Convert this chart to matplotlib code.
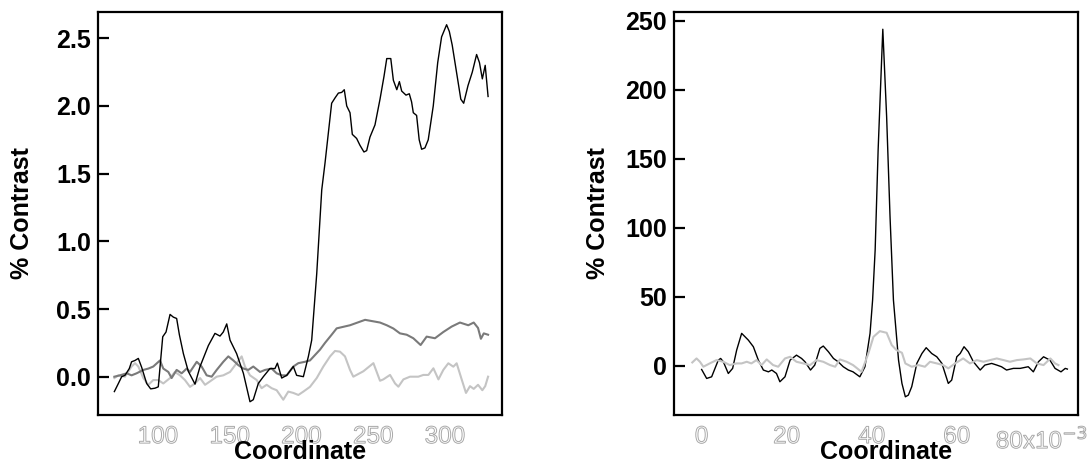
import matplotlib
matplotlib.use('Agg')
import matplotlib.pyplot as plt
import matplotlib.patheffects as pe

plt.rcParams['font.family'] = ['Liberation Sans', 'DejaVu Sans']

# --- left panel: three traces ---
left_black_x = [69.6, 72.4, 74.7, 77.0, 80.0, 81.6, 84.0, 86.3, 88.6, 92.1, 94.9, 97.9, 100.2,
                103.3, 105.6, 108.4, 110.7, 113.0, 114.9, 117.7, 121.1, 125.8, 129.3, 135.1,
                139.7, 143.2, 145.5, 147.9, 150.2, 154.8, 159.5, 164.1, 166.4, 169.9, 173.4,
                178.0, 181.5, 183.2, 186.2, 189.7, 194.3, 196.6, 201.3, 204.8, 207.1, 210.6,
                214.1, 216.4, 218.7, 221.0, 223.4, 225.7, 228.0, 229.8, 231.5, 233.8, 235.4,
                238.4, 240.7, 243.5, 245.4, 247.7, 251.2, 254.7, 257.5, 259.4, 262.2, 264.0,
                266.4, 268.2, 269.8, 272.8, 275.1, 276.7, 277.9, 280.2, 282.0, 283.7, 286.0,
                288.3, 291.8, 294.9, 297.6, 301.1, 303.0, 305.0, 308.0, 311.0, 313.0, 316.0,
                319.0, 322.0, 324.0, 326.0, 328.0, 330.0]
left_black_y = [-0.11, -0.05, 0.0, 0.01, 0.06, 0.11, 0.12, 0.135, 0.07, -0.05, -0.09, -0.085, -0.075,
                0.295, 0.33, 0.46, 0.44, 0.43, 0.31, 0.17, 0.04, -0.055, 0.075, 0.23,
                0.32, 0.30, 0.33, 0.39, 0.27, 0.17, 0.025, -0.185, -0.17, -0.05, 0.0,
                0.06, 0.06, 0.10, -0.01, 0.01, 0.075, 0.01, 0.0, 0.15, 0.27, 0.76,
                1.38, 1.58, 1.80, 2.02, 2.06, 2.095, 2.10, 2.12, 2.0, 1.95, 1.79,
                1.76, 1.71, 1.66, 1.67, 1.77, 1.86, 2.05, 2.22, 2.35, 2.35, 2.19,
                2.12, 2.18, 2.11, 2.08, 2.09, 2.03, 1.95, 1.93, 1.75, 1.68, 1.69,
                1.75, 2.0, 2.32, 2.51, 2.60, 2.55, 2.45, 2.25, 2.05, 2.02, 2.15,
                2.25, 2.38, 2.32, 2.20, 2.30, 2.07]

left_dark_x = [69.6, 73.5, 78.2, 81.6, 85.1, 89.8, 93.3, 96.7, 101.4, 103.7, 107.2, 109.5, 113.0,
               116.5, 120.0, 122.3, 127.0, 130.4, 133.9, 137.4, 140.9, 145.5, 149.0, 152.5,
               156.0, 159.5, 162.9, 166.4, 171.1, 174.6, 179.2, 182.7, 186.2, 189.7, 194.3,
               197.8, 202.4, 205.9, 209.4, 212.9, 216.4, 221.0, 224.5, 233.8, 244.3, 254.7,
               259.4, 264.0, 268.6, 273.3, 277.9, 283.0, 287.2, 293.0, 298.8, 304.6, 310.4,
               316.2, 320.0, 323.0, 325.0, 327.0, 330.0]
left_dark_y = [0.0, 0.01, 0.025, 0.01, 0.025, 0.05, 0.06, 0.075, 0.12, 0.06, 0.035, -0.01, 0.05,
               0.025, 0.06, 0.035, 0.11, 0.075, 0.01, 0.0, 0.05, 0.11, 0.15, 0.12,
               0.085, 0.06, 0.05, 0.075, 0.035, 0.05, 0.06, 0.025, 0.01, 0.01, 0.075,
               0.10, 0.11, 0.12, 0.16, 0.20, 0.25, 0.31, 0.357, 0.38, 0.42, 0.40,
               0.38, 0.356, 0.32, 0.31, 0.284, 0.234, 0.296, 0.284, 0.33, 0.37, 0.40,
               0.38, 0.40, 0.36, 0.28, 0.32, 0.31]

left_light_x = [69.6, 72.4, 77.0, 81.6, 84.0, 86.3, 89.8, 93.3, 96.7, 100.2, 103.7, 108.4, 111.8,
                115.3, 118.8, 122.3, 125.8, 129.3, 132.8, 136.2, 140.9, 145.5, 150.2, 154.8,
                158.3, 160.6, 164.1, 168.8, 172.2, 175.7, 179.2, 182.7, 187.3, 190.8, 194.3,
                197.8, 201.3, 205.9, 210.6, 215.2, 219.9, 223.3, 226.8, 230.3, 233.8, 236.1,
                243.1, 250.1, 254.7, 257.0, 261.7, 265.2, 267.5, 271.0, 275.6, 281.4, 284.9,
                288.4, 291.9, 295.4, 298.8, 302.3, 305.8, 308.1, 311.6, 314.6, 317.4, 320.0,
                323.0, 326.0, 328.0, 330.0]
left_light_y = [-0.01, 0.01, 0.0, 0.075, 0.10, 0.075, -0.01, -0.06, -0.025, -0.025, -0.05, -0.01, 0.035,
                0.01, -0.025, -0.075, -0.05, -0.01, -0.06, -0.035, 0.0, 0.01, 0.035, 0.10,
                0.15, 0.075, 0.01, -0.025, -0.085, -0.06, -0.085, -0.10, -0.17, -0.11, -0.12,
                -0.135, -0.11, -0.075, -0.01, 0.075, 0.15, 0.19, 0.185, 0.15, 0.05, 0.0,
                0.04, 0.10, -0.03, -0.02, 0.013, -0.05, -0.074, -0.02, 0.0, 0.0, 0.013,
                0.013, 0.062, -0.02, 0.05, 0.099, 0.074, 0.099, -0.02, -0.12, -0.07, -0.09,
                -0.06, -0.10, -0.07, 0.0]

left_xticks = [100, 150, 200, 250, 300]
left_yticks = [0.0, 0.5, 1.0, 1.5, 2.0, 2.5]

# --- right panel: two traces (x in units of 1e-3) ---
right_black_x = [0.0, 1.18, 2.35, 3.92, 4.47, 5.1, 6.27, 7.29, 8.24, 9.41, 10.98, 12.16, 13.33,
                 14.51, 15.7, 16.5, 17.6, 18.4, 19.6, 20.8, 22.3, 23.5, 24.3, 25.6, 26.6,
                 27.8, 28.6, 29.8, 31.0, 32.1, 33.3, 34.5, 35.6, 37.2, 38.4, 39.6, 40.2,
                 40.8, 41.5, 42.6, 43.5, 44.3, 45.1, 46.3, 47.1, 47.9, 48.6, 49.4, 50.6,
                 51.8, 52.8, 54.1, 55.3, 56.5, 58.0, 58.8, 60.0, 60.8, 61.7, 62.7, 63.9,
                 65.5, 66.6, 68.2, 69.4, 70.5, 71.7, 73.3, 74.9, 76.8, 78.0, 79.2, 80.4,
                 81.9, 83.1, 84.5, 85.5, 86.0]
right_black_y = [-2.7, -9.2, -8.0, 4.1, 5.3, 2.9, -5.6, -1.9, 11.4, 23.5, 18.6, 13.8, 4.1,
                 -3.1, -4.4, -3.1, -5.6, -11.6, -8.0, 4.1, 7.7, 5.3, 2.9, -3.1, 0.5,
                 12.6, 14.3, 10.2, 5.3, 2.9, -0.7, -3.1, -4.4, -8.0, -0.7, 23.5, 47.6,
                 83.9, 156.4, 244.0, 180.6, 108.1, 47.6, 4.1, -12.8, -22.5, -21.3, -15.2, 1.7,
                 8.9, 13.1, 8.9, 6.5, 1.7, -12.8, -10.4, 6.5, 8.9, 13.8, 10.2, 2.9,
                 -3.1, 0.5, 1.7, 0.5, -0.7, -3.1, -1.9, -1.9, -0.7, -4.4, 2.9, 6.5,
                 4.1, -1.9, -4.4, -1.9, -2.4]

right_light_x = [-2.2, -1.2, -0.4, 0.4, 1.9, 3.5, 5.1, 6.6, 8.2, 9.4, 10.6, 11.7, 12.9, 14.1,
                 15.3, 16.8, 18.0, 19.6, 20.8, 22.3, 23.9, 25.5, 27.0, 28.6, 30.2, 31.4,
                 32.5, 34.1, 35.6, 37.6, 39.2, 40.4, 41.9, 43.5, 44.7, 45.8, 47.1, 47.9,
                 49.4, 51.0, 52.5, 53.7, 55.3, 56.8, 58.0, 59.6, 61.5, 63.1, 64.7, 66.3,
                 67.8, 69.4, 71.0, 72.5, 74.1, 75.7, 77.3, 78.8, 80.4, 82.0, 83.1, 83.9]
right_light_y = [2.4, 5.3, 2.9, -0.7, 1.7, 4.1, 2.9, 0.5, 1.7, 1.7, 2.9, 1.7, 4.1, 0.5,
                 4.6, 0.5, -0.7, 5.3, 6.5, 2.9, 1.7, 0.5, 4.1, 2.9, 0.5, -0.7,
                 4.6, 2.9, 0.5, -4.4, 8.9, 21.0, 25.1, 23.9, 15.0, 11.4, 9.4, 1.7,
                 -0.7, 0.5, -0.7, 2.9, 1.7, 0.5, -1.9, 1.7, 5.3, 1.7, 4.1, 2.9,
                 4.1, 5.3, 4.1, 2.9, 4.1, 4.6, 5.3, 1.7, 0.5, 5.3, 1.7, 0.5]

right_xticks = [0, 20, 40, 60, 80]
right_xticklabels = ['0', '20', '40', '60', '80x10$^{-3}$']
right_yticks = [0, 50, 100, 150, 200, 250]

DARK = '#7a7a7a'
LIGHT = '#c4c4c4'

fig = plt.figure(figsize=(10.91, 4.65), dpi=100)
W, H = 1091, 465
ax1 = fig.add_axes([98 / W, 50 / H, 404 / W, 403 / H])
ax2 = fig.add_axes([674 / W, 50 / H, 404 / W, 403 / H])

ax1.plot(left_light_x, left_light_y, color=LIGHT, lw=1.5)
ax1.plot(left_dark_x, left_dark_y, color=DARK, lw=1.5)
ax1.plot(left_black_x, left_black_y, color='black', lw=1.0)
ax1.set_xlim(58.2, 339.7)
ax1.set_ylim(-0.283, 2.694)
ax1.set_xticks(left_xticks)
ax1.set_xticklabels([str(t) for t in left_xticks])
ax1.set_yticks(left_yticks)
ax1.set_yticklabels([f'{t:.1f}' for t in left_yticks])

ax2.plot(right_black_x, right_black_y, color='black', lw=1.0)
ax2.plot(right_light_x, right_light_y, color=LIGHT, lw=1.5)
ax2.set_xlim(-6.5, 88.5)
ax2.set_ylim(-35.7, 256.5)
ax2.set_xticks(right_xticks)
ax2.set_xticklabels(right_xticklabels)
ax2.set_yticks(right_yticks)
ax2.set_yticklabels([str(t) for t in right_yticks])

# outlined (hollow) x tick labels, as in the original
hollow = [pe.PathPatchEffect(edgecolor='#a8a8a8', facecolor='white', linewidth=0.7)]

for ax, xl in ((ax1, 0.5), (ax2, 0.525)):
    for s in ax.spines.values():
        s.set_linewidth(1.6)
    ax.tick_params(axis='y', direction='in', length=8, width=1.6, pad=5,
                   labelsize=18)
    ax.tick_params(axis='x', length=0, pad=8, labelsize=17.5)
    for lab in ax.get_yticklabels():
        lab.set_fontweight('bold')
    for lab in ax.get_xticklabels():
        lab.set_path_effects(hollow)
    ax.set_ylabel('% Contrast', fontsize=18, fontweight='bold')
    ax.yaxis.set_label_coords(-0.188, 0.5)
    ax.yaxis.label.set_verticalalignment('center')
    ax.set_xlabel('Coordinate', fontsize=18, fontweight='bold')
    ax.xaxis.set_label_coords(xl, -0.092)
    ax.xaxis.label.set_verticalalignment('center')

fig.savefig('out.png', dpi=100)
